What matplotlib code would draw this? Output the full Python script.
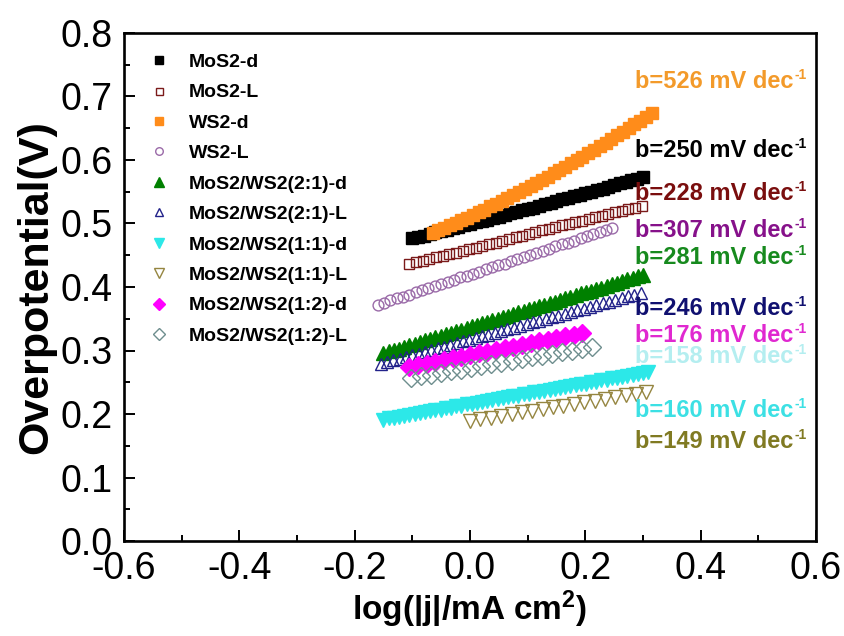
import matplotlib
matplotlib.use("Agg")
import matplotlib.pyplot as plt
from matplotlib.ticker import MultipleLocator, FuncFormatter

plt.rcParams['font.family'] = ['Liberation Sans', 'DejaVu Sans']
plt.rcParams['mathtext.fontset'] = 'custom'
plt.rcParams['mathtext.rm'] = 'Liberation Sans:bold'
plt.rcParams['mathtext.bf'] = 'Liberation Sans:bold'
plt.rcParams['mathtext.it'] = 'Liberation Sans:bold'
plt.rcParams['mathtext.default'] = 'bf'

# ---------------- data ----------------
labels = ["MoS2-d", "MoS2-L", "WS2-d", "WS2-L",
          "MoS2/WS2(2:1)-d", "MoS2/WS2(2:1)-L",
          "MoS2/WS2(1:1)-d", "MoS2/WS2(1:1)-L",
          "MoS2/WS2(1:2)-d", "MoS2/WS2(1:2)-L"]

mos2_d_x = [-0.10, -0.09, -0.08, -0.07, -0.06, -0.05, -0.04, -0.03, -0.02, -0.01,
            0.00, 0.01, 0.02, 0.03, 0.04, 0.05, 0.06, 0.07, 0.08, 0.09,
            0.10, 0.11, 0.12, 0.13, 0.14, 0.15, 0.16, 0.17, 0.18, 0.19,
            0.20, 0.21, 0.22, 0.23, 0.24, 0.25, 0.26, 0.27, 0.28, 0.29, 0.30]
mos2_d_y = [0.477, 0.479, 0.481, 0.484, 0.486, 0.488, 0.490, 0.493, 0.495, 0.497,
            0.500, 0.502, 0.504, 0.506, 0.509, 0.511, 0.514, 0.516, 0.518, 0.521,
            0.523, 0.525, 0.528, 0.530, 0.533, 0.535, 0.538, 0.540, 0.543, 0.545,
            0.548, 0.550, 0.553, 0.555, 0.558, 0.560, 0.563, 0.565, 0.568, 0.570, 0.573]

mos2_l_x = [-0.105, -0.0935, -0.082, -0.0705, -0.059, -0.0475, -0.036, -0.0245, -0.013, -0.0015,
            0.010, 0.0215, 0.033, 0.0445, 0.056, 0.0675, 0.079, 0.0905, 0.102, 0.1135,
            0.125, 0.1365, 0.148, 0.1595, 0.171, 0.1825, 0.194, 0.2055, 0.217, 0.2285,
            0.240, 0.2515, 0.263, 0.2745, 0.286, 0.2975]
mos2_l_y = [0.436, 0.439, 0.441, 0.444, 0.447, 0.449, 0.452, 0.454, 0.457, 0.460,
            0.462, 0.465, 0.468, 0.470, 0.473, 0.475, 0.478, 0.481, 0.483, 0.486,
            0.489, 0.491, 0.494, 0.497, 0.499, 0.502, 0.504, 0.507, 0.510, 0.512,
            0.515, 0.518, 0.520, 0.523, 0.525, 0.528]

ws2_d_x = [-0.065, -0.055, -0.045, -0.035, -0.025, -0.015, -0.005, 0.005, 0.015, 0.025,
           0.035, 0.045, 0.055, 0.065, 0.075, 0.085, 0.095, 0.105, 0.115, 0.125,
           0.135, 0.145, 0.155, 0.165, 0.175, 0.185, 0.195, 0.205, 0.215, 0.225,
           0.235, 0.245, 0.255, 0.265, 0.275, 0.285, 0.295, 0.305, 0.315]
ws2_d_y = [0.485, 0.489, 0.493, 0.497, 0.501, 0.505, 0.509, 0.513, 0.518, 0.522,
           0.527, 0.531, 0.536, 0.540, 0.545, 0.549, 0.554, 0.559, 0.564, 0.569,
           0.574, 0.579, 0.584, 0.589, 0.595, 0.600, 0.605, 0.611, 0.616, 0.622,
           0.627, 0.633, 0.639, 0.644, 0.650, 0.656, 0.662, 0.668, 0.674]

ws2_l_x = [-0.160, -0.149, -0.138, -0.127, -0.116, -0.105, -0.094, -0.083, -0.072, -0.061,
           -0.050, -0.039, -0.028, -0.017, -0.006, 0.005, 0.016, 0.027, 0.038, 0.049,
           0.060, 0.071, 0.082, 0.093, 0.104, 0.115, 0.126, 0.137, 0.148, 0.159,
           0.170, 0.181, 0.192, 0.203, 0.214, 0.225, 0.236, 0.247]
ws2_l_y = [0.372, 0.375, 0.379, 0.382, 0.385, 0.388, 0.392, 0.395, 0.398, 0.401,
           0.405, 0.408, 0.411, 0.415, 0.418, 0.421, 0.424, 0.428, 0.431, 0.434,
           0.437, 0.441, 0.444, 0.447, 0.451, 0.454, 0.457, 0.460, 0.464, 0.467,
           0.470, 0.473, 0.477, 0.480, 0.483, 0.487, 0.490, 0.493]

r21_d_x = [-0.150, -0.141, -0.132, -0.123, -0.114, -0.105, -0.096, -0.087, -0.078, -0.069,
           -0.060, -0.051, -0.042, -0.033, -0.024, -0.015, -0.006, 0.003, 0.012, 0.021,
           0.030, 0.039, 0.048, 0.057, 0.066, 0.075, 0.084, 0.093, 0.102, 0.111,
           0.120, 0.129, 0.138, 0.147, 0.156, 0.165, 0.174, 0.183, 0.192, 0.201,
           0.210, 0.219, 0.228, 0.237, 0.246, 0.255, 0.264, 0.273, 0.282, 0.291, 0.300]
r21_d_y = [0.296, 0.299, 0.301, 0.303, 0.306, 0.308, 0.311, 0.313, 0.316, 0.318,
           0.321, 0.323, 0.326, 0.328, 0.330, 0.333, 0.335, 0.338, 0.340, 0.343,
           0.345, 0.348, 0.350, 0.353, 0.355, 0.358, 0.360, 0.362, 0.365, 0.367,
           0.370, 0.372, 0.375, 0.377, 0.380, 0.382, 0.385, 0.387, 0.390, 0.392,
           0.394, 0.397, 0.399, 0.402, 0.404, 0.407, 0.409, 0.412, 0.414, 0.417, 0.419]

r21_l_x = [-0.155, -0.144, -0.133, -0.122, -0.111, -0.100, -0.089, -0.078, -0.067, -0.056,
           -0.045, -0.034, -0.023, -0.012, -0.001, 0.010, 0.021, 0.032, 0.043, 0.054,
           0.065, 0.076, 0.087, 0.098, 0.109, 0.120, 0.131, 0.142, 0.153, 0.164,
           0.175, 0.186, 0.197, 0.208, 0.219, 0.230, 0.241, 0.252, 0.263, 0.274,
           0.285, 0.296]
r21_l_y = [0.279, 0.282, 0.285, 0.287, 0.290, 0.293, 0.295, 0.298, 0.301, 0.304,
           0.306, 0.309, 0.312, 0.315, 0.317, 0.320, 0.323, 0.325, 0.328, 0.331,
           0.334, 0.336, 0.339, 0.342, 0.345, 0.347, 0.350, 0.353, 0.355, 0.358,
           0.361, 0.364, 0.366, 0.369, 0.372, 0.375, 0.377, 0.380, 0.383, 0.386,
           0.388, 0.391]

r11_d_x = [-0.150, -0.141, -0.132, -0.123, -0.114, -0.105, -0.096, -0.087, -0.078, -0.069,
           -0.060, -0.051, -0.042, -0.033, -0.024, -0.015, -0.006, 0.003, 0.012, 0.021,
           0.030, 0.039, 0.048, 0.057, 0.066, 0.075, 0.084, 0.093, 0.102, 0.111,
           0.120, 0.129, 0.138, 0.147, 0.156, 0.165, 0.174, 0.183, 0.192, 0.201,
           0.210, 0.219, 0.228, 0.237, 0.246, 0.255, 0.264, 0.273, 0.282, 0.291,
           0.300, 0.309]
r11_d_y = [0.191, 0.193, 0.194, 0.195, 0.197, 0.198, 0.200, 0.201, 0.203, 0.204,
           0.206, 0.207, 0.209, 0.210, 0.212, 0.213, 0.215, 0.216, 0.218, 0.219,
           0.220, 0.222, 0.223, 0.225, 0.226, 0.228, 0.229, 0.231, 0.232, 0.234,
           0.235, 0.237, 0.238, 0.240, 0.241, 0.243, 0.244, 0.245, 0.247, 0.248,
           0.250, 0.251, 0.253, 0.254, 0.256, 0.257, 0.259, 0.260, 0.262, 0.263,
           0.265, 0.266]

r11_l_x = [0.000, 0.018, 0.036, 0.054, 0.072, 0.090, 0.108, 0.126, 0.144, 0.162,
           0.180, 0.198, 0.216, 0.234, 0.252, 0.270, 0.288, 0.306]
r11_l_y = [0.189, 0.192, 0.194, 0.197, 0.200, 0.203, 0.205, 0.208, 0.211, 0.213,
           0.216, 0.219, 0.221, 0.224, 0.227, 0.230, 0.232, 0.235]

r12_d_x = [-0.105, -0.090, -0.075, -0.060, -0.045, -0.030, -0.015, 0.000, 0.015, 0.030,
           0.045, 0.060, 0.075, 0.090, 0.105, 0.120, 0.135, 0.150, 0.165, 0.180, 0.195]
r12_d_y = [0.274, 0.277, 0.279, 0.282, 0.285, 0.288, 0.290, 0.293, 0.296, 0.298,
           0.301, 0.304, 0.306, 0.309, 0.312, 0.315, 0.317, 0.320, 0.323, 0.325, 0.328]

r12_l_x = [-0.103, -0.0855, -0.068, -0.0505, -0.033, -0.0155, 0.002, 0.0195, 0.037, 0.0545,
           0.072, 0.0895, 0.107, 0.1245, 0.142, 0.1595, 0.177, 0.1945, 0.212]
r12_l_y = [0.257, 0.260, 0.262, 0.265, 0.268, 0.270, 0.273, 0.276, 0.278, 0.281,
           0.284, 0.286, 0.289, 0.292, 0.294, 0.297, 0.300, 0.302, 0.305]

slope_texts = ["b=526 mV dec", "b=250 mV dec", "b=228 mV dec", "b=307 mV dec",
               "b=281 mV dec", "b=246 mV dec", "b=176 mV dec", "b=158 mV dec",
               "b=160 mV dec", "b=149 mV dec"]
slope_sup = "-1"
slope_y = [0.713, 0.605, 0.537, 0.479, 0.436, 0.356, 0.313, 0.280, 0.195, 0.147]
slope_colors = ['#F39A2A', '#000000', '#7A0E0E', '#86118A', '#178A1E',
                '#101070', '#E028D0', '#B4EEF0', '#3CE0E4', '#807A22']

# ---------------- styles ----------------
series = [
    (mos2_d_x, mos2_d_y, dict(marker='s', color='black', mfc='black', ms=9)),
    (mos2_l_x, mos2_l_y, dict(marker='s', color='#7B1A1A', mfc='none', ms=7.2, mew=1.0)),
    (ws2_d_x, ws2_d_y, dict(marker='s', color='#FF8C1A', mfc='#FF8C1A', ms=9)),
    (ws2_l_x, ws2_l_y, dict(marker='o', color='#9A6AA8', mfc='none', ms=7.8, mew=1.0)),
    (r21_d_x, r21_d_y, dict(marker='^', color='#008000', mfc='#008000', ms=10)),
    (r21_l_x, r21_l_y, dict(marker='^', color='#22228A', mfc='none', ms=9, mew=1.0)),
    (r11_d_x, r11_d_y, dict(marker='v', color='#2CE8E8', mfc='#2CE8E8', ms=10)),
    (r11_l_x, r11_l_y, dict(marker='v', color='#958540', mfc='none', ms=9.5, mew=1.0)),
    (r12_d_x, r12_d_y, dict(marker='D', color='#FF00FF', mfc='#FF00FF', ms=9)),
    (r12_l_x, r12_l_y, dict(marker='D', color='#6E8E8E', mfc='none', ms=9, mew=1.0)),
]

fig = plt.figure(figsize=(8.45, 6.36), dpi=100)
ax = fig.add_axes([124/845, 1-541/636, (816-124)/845, (541-33)/636])

for (xs, ys, st), lab in zip(series, labels):
    st = dict(st)
    mec = st.pop('color')
    ax.plot(xs, ys, linestyle='none', mec=mec, label=lab, **st)

for t, yv, c in zip(slope_texts, slope_y, slope_colors):
    main = ax.text(0.286, yv, t, color=c, fontsize=17, fontweight='bold',
                   ha='left', va='baseline')
    ax.annotate(slope_sup, xy=(1.0, 1.0), xycoords=main, xytext=(1.0, 1.5),
                textcoords='offset points', ha='left', va='top',
                fontsize=10, fontweight='bold', color=c)

ax.set_xlim(-0.6, 0.6)
ax.set_ylim(0.0, 0.8)
ax.xaxis.set_major_locator(MultipleLocator(0.2))
ax.xaxis.set_minor_locator(MultipleLocator(0.1))
ax.yaxis.set_major_locator(MultipleLocator(0.1))
ax.yaxis.set_minor_locator(MultipleLocator(0.05))
ax.xaxis.set_major_formatter(FuncFormatter(lambda v, p: f"{v:.1f}".replace("-0.0", "0.0")))
ax.yaxis.set_major_formatter(FuncFormatter(lambda v, p: f"{v:.1f}"))

for s in ax.spines.values():
    s.set_linewidth(1.9)
ax.tick_params(which='both', direction='in', top=False, right=False, width=1.4)
ax.tick_params(which='major', length=8)
ax.tick_params(which='minor', length=4.5)
ax.tick_params(axis='x', which='major', labelsize=27, pad=7)
ax.tick_params(axis='y', which='major', labelsize=27, pad=8)

ax.set_ylabel('Overpotential(V)', fontsize=31, fontweight='bold', labelpad=3)
ax.set_xlabel(r'log(|j|/mA cm$^{\mathbf{2}}$)', fontsize=24, fontweight='bold', labelpad=1)

leg = ax.legend(loc='upper left', bbox_to_anchor=(0.036, 0.960), frameon=False,
                numpoints=1, handlelength=1.0, handletextpad=1.05,
                borderpad=0, borderaxespad=0, labelspacing=0.66,
                prop={'family': 'Liberation Sans', 'weight': 'bold', 'size': 14},
                markerscale=0.7)

fig.savefig('out.png', dpi=100)
